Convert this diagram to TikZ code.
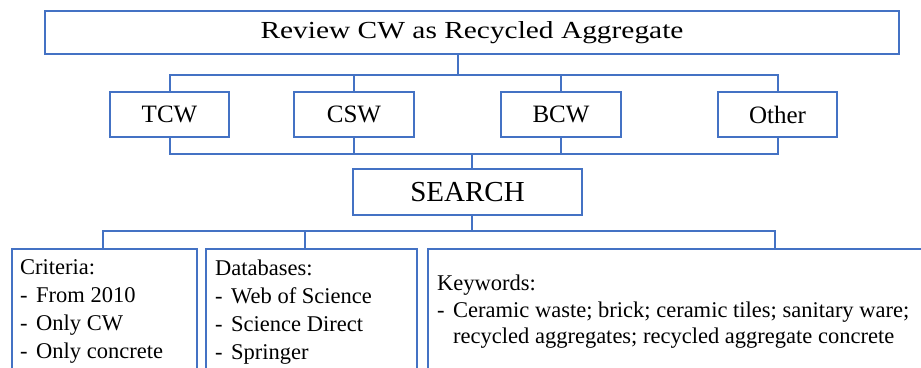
\documentclass[tikz,border=0pt]{standalone}
\usepackage{graphicx}
\usepackage{fontspec}
\setmainfont{Liberation Serif}
\usetikzlibrary{positioning}
\definecolor{boxblue}{HTML}{4472C4}

\begin{document}
\begin{tikzpicture}[
    x=1pt, y=-1pt,
    box/.style={rectangle, draw=boxblue, line width=2pt, outer sep=0pt, inner sep=0pt, minimum height=45pt},
    wire/.style={draw=boxblue, line width=2pt},
    list/.style={anchor=north west, align=left, inner sep=0pt, font=\fontsize{22.5}{28}\selectfont},
    item/.style={},
]
    \useasboundingbox (0,0) rectangle (921,367);
    \clip (0,0) rectangle (921,367);

    \node[box, minimum width=854pt, minimum height=43pt, font=\fontsize{24.5}{28}\selectfont] (review) at (472,32.5) {\scalebox{1.2}[1]{Review CW as Recycled Aggregate}};

    \node[box, minimum width=119pt, font=\fontsize{25}{30}\selectfont] (tcw) at (169.5,114.5) {TCW};
    \node[box, minimum width=120pt, font=\fontsize{25}{30}\selectfont, right=65pt of tcw] (csw) {CSW};
    \node[box, minimum width=120pt, font=\fontsize{25}{30}\selectfont, right=87pt of csw] (bcw) {BCW};
    \node[box, minimum width=119pt, font=\fontsize{25}{30}\selectfont, right=97pt of bcw] (other) {Other};

    \node[box, minimum width=229pt, minimum height=46pt, font=\fontsize{29}{34}\selectfont] (search) at (467.5,192) {SEARCH};

    \node[box, minimum width=185pt, minimum height=200pt] (crit) at (104.5,349) {};
    \node[box, minimum width=211pt, minimum height=200pt, right=9pt of crit] (db) {};
    \node[box, minimum width=694pt, minimum height=200pt, right=11pt of db] (kw) {};

    \node[list] (crittext) at ([shift={(8,10.6)}]crit.north west)
        {Criteria:\\ \makebox[16pt][l]{-}From 2010\\ \makebox[16pt][l]{-}Only CW\\ \makebox[16pt][l]{-}Only concrete};
    \node[list] (dbtext) at ([shift={(9,10.6)}]db.north west)
        {Databases:\\ \makebox[16pt][l]{-}Web of Science\\ \makebox[16pt][l]{-}Science Direct\\ \makebox[16pt][l]{-}Springer};
    \node[list, font=\fontsize{22.5}{26.5}\selectfont] (kwtext) at ([shift={(9,26)}]kw.north west)
        {Keywords:\\ \makebox[16pt][l]{-}Ceramic waste; brick; ceramic tiles; sanitary ware;\\ \hspace*{16pt}recycled aggregates; recycled aggregate concrete};

    % upper bus
    \coordinate (busA) at (458,75);
    \draw[wire] (review.south -| busA) -- (busA);
    \draw[wire] (tcw.north) |- (busA) -| (other.north);
    \draw[wire] (csw.north) -- (csw.north |- busA);
    \draw[wire] (bcw.north) -- (bcw.north |- busA);

    % middle bus
    \coordinate (busB) at (472,154);
    \draw[wire] (tcw.south) |- (busB) -| (other.south);
    \draw[wire] (csw.south) -- (csw.south |- busB);
    \draw[wire] (bcw.south) -- (bcw.south |- busB);
    \draw[wire] (busB) -- (search.north -| busB);

    % lower bus
    \coordinate (busC) at (472,231);
    \draw[wire] (search.south -| busC) -- (busC);
    \draw[wire] ([xshift=-1.5pt]crit.north) |- (busC) -| (kw.north);
    \draw[wire] ([xshift=-6.5pt]db.north) -- ([xshift=-6.5pt]db.north |- busC);
\end{tikzpicture}
\end{document}
